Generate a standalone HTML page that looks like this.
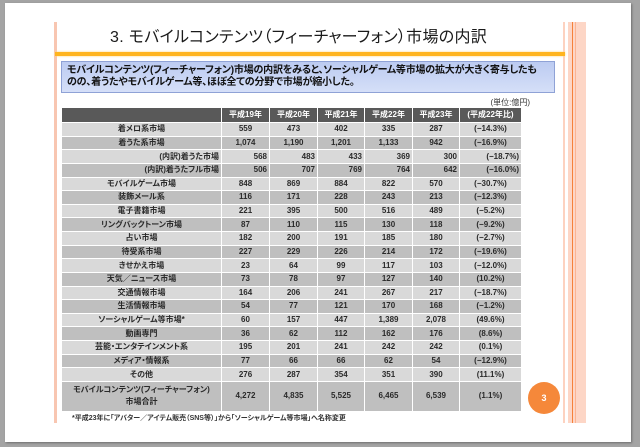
<!DOCTYPE html>
<html><head><meta charset="utf-8">
<style>
html,body{margin:0;padding:0;}
body{width:640px;height:447px;background:#a4a4a4;position:relative;overflow:hidden;font-family:"Liberation Sans","Noto Sans CJK JP",sans-serif;}
.page{position:absolute;left:5px;top:3px;width:626px;height:439px;background:#fff;box-shadow:1px 1px 2px #6e6e6e;}
.abs{position:absolute;}
.jp{font-family:"Liberation Sans","Noto Sans CJK JP",sans-serif;font-feature-settings:"palt";}
.grid{position:absolute;left:62px;top:108px;width:459px;height:303px;background:#fff;display:grid;
grid-template-columns:159px 47px 47px 46px 47px 46px 61px;
grid-template-rows:14px repeat(19,12.63px) 29px;gap:1px;}
.grid div{display:flex;align-items:center;justify-content:center;font-size:8px;font-weight:bold;color:#2a2a2a;white-space:nowrap;font-feature-settings:"palt";line-height:1;}
.grid .h{background:#595959;color:#fff;}
.grid .l{background:#d9d9d9;}
.grid .d{background:#bfbfbf;}
.grid .r{justify-content:flex-end;padding-right:2px;}
.grid .t{line-height:12px;text-align:center;}
</style></head><body>
<div class="page"></div>
<div class="abs" style="left:54px;top:22px;width:3px;height:401px;background:#f8c6b1;"></div>
<div class="abs" style="left:563px;top:22px;width:2px;height:401px;background:#fdd2c0;"></div>
<div class="abs" style="left:568px;top:22px;width:18px;height:401px;background:#fdd6c6;"></div>
<div class="abs" style="left:572px;top:22px;width:1px;height:401px;background:#f5813a;"></div>
<div class="abs" style="left:575px;top:22px;width:1px;height:401px;background:#fbb493;"></div>
<div class="abs" style="left:55px;top:52px;width:510px;height:4px;background:#ffb41e;box-shadow:0 0 2px #ffd27a;"></div>

<div class="abs jp" style="left:110px;top:29px;font-size:16px;line-height:18px;color:#1a1a1a;white-space:nowrap;letter-spacing:0.3px;">3. モバイルコンテンツ（フィーチャーフォン）市場の内訳</div>

<div class="abs" style="left:61px;top:61px;width:492px;height:30px;border:1px solid #8fa2d6;background:linear-gradient(to bottom,#bccbf1,#d5dff8);"></div>
<div class="abs jp" style="left:67px;top:65px;font-size:10px;line-height:12px;font-weight:bold;color:#111;white-space:nowrap;letter-spacing:-0.2px;">モバイルコンテンツ(フィーチャーフォン)市場の内訳をみると、ソーシャルゲーム等市場の拡大が大きく寄与したも<br>のの、着うたやモバイルゲーム等、ほぼ全ての分野で市場が縮小した。</div>

<div class="abs jp" style="right:110px;top:98px;font-size:8px;line-height:10px;color:#333;">(単位:億円)</div>

<div class="grid">
<div class="h"></div><div class="h">平成19年</div><div class="h">平成20年</div><div class="h">平成21年</div><div class="h">平成22年</div><div class="h">平成23年</div><div class="h">(平成22年比)</div>
<div class="l">着メロ系市場</div><div class="l">559</div><div class="l">473</div><div class="l">402</div><div class="l">335</div><div class="l">287</div><div class="l">(−14.3%)</div>
<div class="d">着うた系市場</div><div class="d">1,074</div><div class="d">1,190</div><div class="d">1,201</div><div class="d">1,133</div><div class="d">942</div><div class="d">(−16.9%)</div>
<div class="l r">(内訳)着うた市場</div><div class="l r">568</div><div class="l r">483</div><div class="l r">433</div><div class="l r">369</div><div class="l r">300</div><div class="l r">(−18.7%)</div>
<div class="d r">(内訳)着うたフル市場</div><div class="d r">506</div><div class="d r">707</div><div class="d r">769</div><div class="d r">764</div><div class="d r">642</div><div class="d r">(−16.0%)</div>
<div class="l">モバイルゲーム市場</div><div class="l">848</div><div class="l">869</div><div class="l">884</div><div class="l">822</div><div class="l">570</div><div class="l">(−30.7%)</div>
<div class="d">装飾メール系</div><div class="d">116</div><div class="d">171</div><div class="d">228</div><div class="d">243</div><div class="d">213</div><div class="d">(−12.3%)</div>
<div class="l">電子書籍市場</div><div class="l">221</div><div class="l">395</div><div class="l">500</div><div class="l">516</div><div class="l">489</div><div class="l">(−5.2%)</div>
<div class="d">リングバックトーン市場</div><div class="d">87</div><div class="d">110</div><div class="d">115</div><div class="d">130</div><div class="d">118</div><div class="d">(−9.2%)</div>
<div class="l">占い市場</div><div class="l">182</div><div class="l">200</div><div class="l">191</div><div class="l">185</div><div class="l">180</div><div class="l">(−2.7%)</div>
<div class="d">待受系市場</div><div class="d">227</div><div class="d">229</div><div class="d">226</div><div class="d">214</div><div class="d">172</div><div class="d">(−19.6%)</div>
<div class="l">きせかえ市場</div><div class="l">23</div><div class="l">64</div><div class="l">99</div><div class="l">117</div><div class="l">103</div><div class="l">(−12.0%)</div>
<div class="d">天気／ニュース市場</div><div class="d">73</div><div class="d">78</div><div class="d">97</div><div class="d">127</div><div class="d">140</div><div class="d">(10.2%)</div>
<div class="l">交通情報市場</div><div class="l">164</div><div class="l">206</div><div class="l">241</div><div class="l">267</div><div class="l">217</div><div class="l">(−18.7%)</div>
<div class="d">生活情報市場</div><div class="d">54</div><div class="d">77</div><div class="d">121</div><div class="d">170</div><div class="d">168</div><div class="d">(−1.2%)</div>
<div class="l">ソーシャルゲーム等市場*</div><div class="l">60</div><div class="l">157</div><div class="l">447</div><div class="l">1,389</div><div class="l">2,078</div><div class="l">(49.6%)</div>
<div class="d">動画専門</div><div class="d">36</div><div class="d">62</div><div class="d">112</div><div class="d">162</div><div class="d">176</div><div class="d">(8.6%)</div>
<div class="l">芸能・エンタテインメント系</div><div class="l">195</div><div class="l">201</div><div class="l">241</div><div class="l">242</div><div class="l">242</div><div class="l">(0.1%)</div>
<div class="d">メディア・情報系</div><div class="d">77</div><div class="d">66</div><div class="d">66</div><div class="d">62</div><div class="d">54</div><div class="d">(−12.9%)</div>
<div class="l">その他</div><div class="l">276</div><div class="l">287</div><div class="l">354</div><div class="l">351</div><div class="l">390</div><div class="l">(11.1%)</div>
<div class="d t">モバイルコンテンツ(フィーチャーフォン)<br>市場合計</div><div class="d">4,272</div><div class="d">4,835</div><div class="d">5,525</div><div class="d">6,465</div><div class="d">6,539</div><div class="d">(1.1%)</div>
</div>

<div class="abs jp" style="left:72px;top:414px;font-size:7px;line-height:9px;font-weight:bold;color:#333;white-space:nowrap;">*平成23年に「アバター／アイテム販売（SNS等）」から「ソーシャルゲーム等市場」へ名称変更</div>

<div class="abs" style="left:528px;top:382px;width:32px;height:32px;border-radius:50%;background:#f5883a;color:#fff;font-size:9px;font-weight:bold;line-height:32px;text-align:center;">3</div>
</body></html>
